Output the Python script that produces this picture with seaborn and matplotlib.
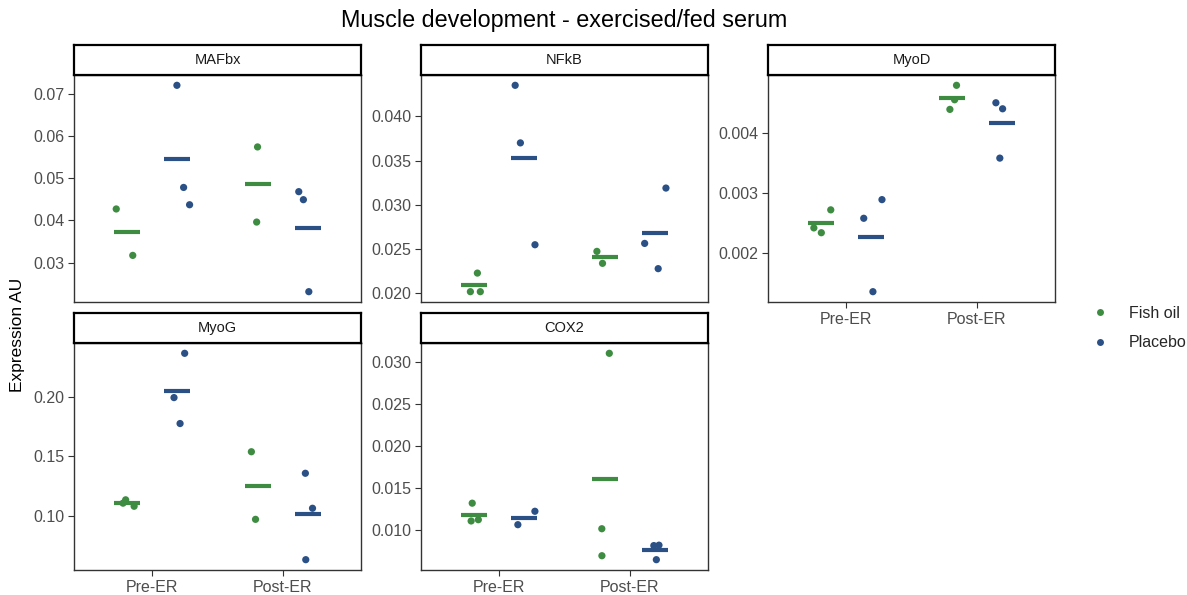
import numpy as np
import pandas as pd
import matplotlib
matplotlib.use("Agg")
import matplotlib.pyplot as plt
from matplotlib.lines import Line2D
from matplotlib.ticker import MultipleLocator, FormatStrFormatter
import seaborn as sns

# ---- data -------------------------------------------------------------
genes = ["MAFbx", "NFkB", "MyoD", "MyoG", "COX2"]
times = ["Pre-ER", "Post-ER"]
groups = ["Fish oil", "Placebo"]

# expression values per gene: (group, time) -> replicate values
mafbx = {
    ("Fish oil", "Pre-ER"): [0.0427, 0.0317],
    ("Placebo", "Pre-ER"): [0.0720, 0.0478, 0.0437],
    ("Fish oil", "Post-ER"): [0.0574, 0.0396],
    ("Placebo", "Post-ER"): [0.0468, 0.0449, 0.0231],
}
nfkb = {
    ("Fish oil", "Pre-ER"): [0.0223, 0.0202, 0.0202],
    ("Placebo", "Pre-ER"): [0.0435, 0.0370, 0.0255],
    ("Fish oil", "Post-ER"): [0.02475, 0.0234],
    ("Placebo", "Post-ER"): [0.0319, 0.02565, 0.0228],
}
myod = {
    ("Fish oil", "Pre-ER"): [0.00272, 0.00242, 0.00234],
    ("Placebo", "Pre-ER"): [0.00289, 0.00258, 0.00136],
    ("Fish oil", "Post-ER"): [0.00479, 0.00455, 0.00439],
    ("Placebo", "Post-ER"): [0.00450, 0.00440, 0.00358],
}
myog = {
    ("Fish oil", "Pre-ER"): [0.1133, 0.1105, 0.1079],
    ("Placebo", "Pre-ER"): [0.2364, 0.1992, 0.1774],
    ("Fish oil", "Post-ER"): [0.1537, 0.0969],
    ("Placebo", "Post-ER"): [0.1356, 0.1062, 0.0630],
}
cox2 = {
    ("Fish oil", "Pre-ER"): [0.01323, 0.01127, 0.01112],
    ("Placebo", "Pre-ER"): [0.01227, 0.01068],
    ("Fish oil", "Post-ER"): [0.0310, 0.0102, 0.0070],
    ("Placebo", "Post-ER"): [0.00825, 0.00653, 0.0082],
}
gene_data = {"MAFbx": mafbx, "NFkB": nfkb, "MyoD": myod, "MyoG": myog, "COX2": cox2}

rows = []
for g in genes:
    for (grp, t), vals in gene_data[g].items():
        for v in vals:
            rows.append({"gene": g, "time": t, "group": grp, "value": v})
df = pd.DataFrame(rows)

# ---- styling ----------------------------------------------------------
sns.set_theme(style="white")
plt.rcParams["font.family"] = ["Liberation Sans", "DejaVu Sans"]

palette = {"Fish oil": "#3E8C41", "Placebo": "#2A5086"}
tick_grey = "#4D4D4D"
tick_step = {"MAFbx": 0.01, "NFkB": 0.005, "MyoD": 0.001, "MyoG": 0.05, "COX2": 0.005}
tick_fmt = {"MAFbx": "%.2f", "NFkB": "%.3f", "MyoD": "%.3f", "MyoG": "%.2f", "COX2": "%.3f"}

W, H = 1187, 595
fig = plt.figure(figsize=(W / 100, H / 100), dpi=100)

col_left = [74, 421, 768]
panel_w = 287
strip_h = 30
row_top = [75, 343]       # top of plotting area (below the strip)
row_bottom = [302, 570]   # bottom of plotting area

layout = {"MAFbx": (0, 0), "NFkB": (0, 1), "MyoD": (0, 2), "MyoG": (1, 0), "COX2": (1, 1)}
show_x = {"MAFbx": False, "NFkB": False, "MyoD": True, "MyoG": True, "COX2": True}

np.random.seed(7)

for g in genes:
    r, c = layout[g]
    left = col_left[c] / W
    bottom = 1 - row_bottom[r] / H
    height = (row_bottom[r] - row_top[r]) / H
    ax = fig.add_axes([left, bottom, panel_w / W, height])
    sub = df[df["gene"] == g]

    sns.stripplot(data=sub, x="time", y="value", hue="group", order=times,
                  hue_order=groups, palette=palette, dodge=True, jitter=0.18,
                  size=5.2, linewidth=0, ax=ax, legend=False, zorder=3)
    sns.pointplot(data=sub, x="time", y="value", hue="group", order=times,
                  hue_order=groups, palette=palette, estimator="mean",
                  errorbar=None, dodge=0.38, linestyle="none", markers="_",
                  markersize=19, markeredgewidth=3, ax=ax, legend=False)

    lo, hi = sub["value"].min(), sub["value"].max()
    pad = 0.05 * (hi - lo)
    ax.set_ylim(lo - pad, hi + pad)
    ax.set_xlim(-0.6, 1.6)
    ax.yaxis.set_major_locator(MultipleLocator(tick_step[g]))
    ax.yaxis.set_major_formatter(FormatStrFormatter(tick_fmt[g]))
    ax.set_xlabel("")
    ax.set_ylabel("")
    for s in ax.spines.values():
        s.set_visible(True)
        s.set_color("#333333")
        s.set_linewidth(1.0)
    ax.tick_params(axis="both", which="both", direction="out", length=4,
                   width=0.8, color="#333333", labelcolor=tick_grey,
                   labelsize=11.5, left=True, bottom=True, pad=3)
    if not show_x[g]:
        ax.tick_params(axis="x", labelbottom=False, bottom=False)

    # facet strip
    sax = fig.add_axes([left, 1 - row_top[r] / H, panel_w / W, strip_h / H])
    sax.set_xticks([])
    sax.set_yticks([])
    sax.set_facecolor("white")
    for s in sax.spines.values():
        s.set_visible(True)
        s.set_color("black")
        s.set_linewidth(1.6)
    sax.text(0.5, 0.5, g, ha="center", va="center", fontsize=10.5,
             color="#1A1A1A", transform=sax.transAxes)

# titles
fig.text(564 / W, 1 - 21 / H, "Muscle development - exercised/fed serum",
         ha="center", va="center", fontsize=16.8, color="black")
fig.text(18 / W, 1 - 335 / H, "Expression AU", ha="center", va="center",
         rotation=90, fontsize=12.5, color="black")

# legend
handles = [Line2D([0], [0], marker="o", linestyle="none", markersize=5,
                  markerfacecolor=palette[k], markeredgewidth=0, label=k)
           for k in groups]
fig.legend(handles=handles, loc="center left",
           bbox_to_anchor=(1076 / W, 1 - 328 / H), frameon=False,
           fontsize=11.5, handletextpad=1.2, labelspacing=0.9,
           handlelength=1.2)

fig.savefig("out.png", dpi=100)
